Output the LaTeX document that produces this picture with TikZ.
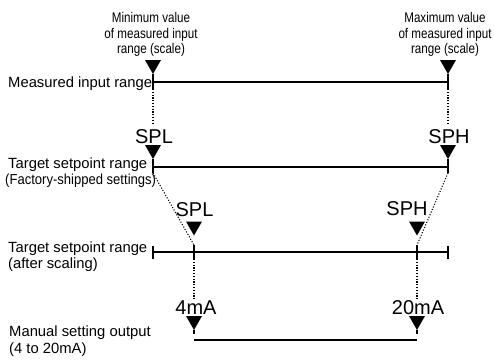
\documentclass[tikz,border=0pt]{standalone}
\usepackage{fontspec}
\setmainfont{Liberation Sans}
\newfontfamily\narrowfont[FakeStretch=0.83]{Liberation Sans}
\newfontfamily\semifont[FakeStretch=0.9]{Liberation Sans}
\begin{document}
\begin{tikzpicture}[x=1pt,y=-1pt,
  lbl/.style={font=\fontsize{14.8}{16}\selectfont, anchor=base west, inner sep=0},
  semilbl/.style={font=\semifont\fontsize{14.5}{16}\selectfont, anchor=base west, inner sep=0},
  toplbl/.style={font=\narrowfont\fontsize{14}{16}\selectfont, anchor=base, inner sep=0},
  big/.style={font=\fontsize{20}{22}\selectfont, anchor=base, inner sep=0},
  rng/.style={line width=1.1pt},
  dots/.style={line width=1.1pt, dash pattern=on 1.1pt off 1.7pt},
  tri/.pic={\fill (0,0) -- (-8,-14) -- (8,-14) -- cycle;}]
\fill[white] (0,0) rectangle (494,360);
\useasboundingbox (0,0) rectangle (494,360);

% ---- top labels
\node[toplbl] (minA) at (151,22.5) {Minimum value};
\node[toplbl] (minB) at (151,38) {of measured input};
\node[toplbl] (minC) at (151,53.5) {range (scale)};
\node[toplbl] (maxA) at (445,22.5) {Maximum value};
\node[toplbl] (maxB) at (445,38) {of measured input};
\node[toplbl] (maxC) at (445,53.5) {range (scale)};

% ---- row 1: measured input range
\coordinate (t1L) at (153,74);
\coordinate (t1R) at (448,74);
\coordinate (r1L) at (153,82);
\coordinate (r1R) at (448,82);
\coordinate (b1L) at (153,89);
\coordinate (b1R) at (448,89);
\pic at (t1L) {tri};
\pic at (t1R) {tri};
\draw[rng] (r1L) -- (r1R);
\draw[rng] (t1L) -- (b1L);
\draw[rng] (t1R) -- (b1R);
\node[lbl] (mir) at (8,87) {Measured input range};

\coordinate (d1L) at (153,125);
\coordinate (d1R) at (448,125);
\draw[dots] (b1L) -- (d1L);
\draw[dots] (b1R) -- (d1R);

% ---- row 2: target setpoint range (factory)
\node[big] (spl1) at (154,143) {SPL};
\node[big] (sph1) at (449,143) {SPH};
\coordinate (t2L) at (153,159);
\coordinate (t2R) at (448,159);
\coordinate (r2L) at (153,167);
\coordinate (r2R) at (448,167);
\coordinate (b2L) at (153,173);
\coordinate (b2R) at (448,173);
\pic at (t2L) {tri};
\pic at (t2R) {tri};
\draw[rng] (r2L) -- (r2R);
\draw[rng] (t2L) -- (b2L);
\draw[rng] (t2R) -- (b2R);
\node[lbl] (tsr1) at (8,168) {Target setpoint range};
\node[semilbl] (fss) at (5,184) {(Factory-shipped settings)};

% ---- row 3: target setpoint range (after scaling)
\coordinate (s3L) at (194,245);
\coordinate (s3R) at (417,245);
\draw[dots] (b2L) -- (s3L);
\draw[dots] (b2R) -- (s3R);
\node[big] (spl2) at (194.5,216) {SPL};
\node[big] (sph2) at (407,215) {SPH};
\coordinate (t3L) at (194,235.5);
\coordinate (t3R) at (417,235.5);
\pic at (t3L) {tri};
\pic at (t3R) {tri};
\coordinate (r3L) at (153,252);
\coordinate (r3R) at (448,252);
\draw[rng] (r3L) -- (r3R);
\draw[rng] ([yshift=-6.5pt]r3L) -- ([yshift=6.5pt]r3L);
\draw[rng] ([yshift=-6.5pt]r3R) -- ([yshift=6.5pt]r3R);
\coordinate (b3L) at (194,259);
\coordinate (b3R) at (417,259);
\draw[rng] (s3L) -- (b3L);
\draw[rng] (s3R) -- (b3R);
\node[lbl] (tsr2) at (8,252) {Target setpoint range};
\node[lbl] (afs) at (8,268) {(after scaling)};

% ---- row 4: manual setting output
\coordinate (d4L) at (194,299);
\coordinate (d4R) at (417,299);
\draw[dots] (b3L) -- (d4L);
\draw[dots] (b3R) -- (d4R);
\node[big] (ma4) at (196,314) {4mA};
\node[big] (ma20) at (418,314) {20mA};
\coordinate (t4L) at (194,330);
\coordinate (t4R) at (417,330);
\pic at (t4L) {tri};
\pic at (t4R) {tri};
\coordinate (r4L) at (194,340);
\coordinate (r4R) at (417,340);
\draw[rng] (r4L) -- (r4R);
\draw[rng] (t4L) -- ([yshift=6.5pt]r4L);
\draw[rng] (t4R) -- ([yshift=6.5pt]r4R);
\node[lbl] (mso) at (9,336.5) {Manual setting output};
\node[lbl] (rng420) at (9,353) {(4 to 20mA)};
\end{tikzpicture}
\end{document}
